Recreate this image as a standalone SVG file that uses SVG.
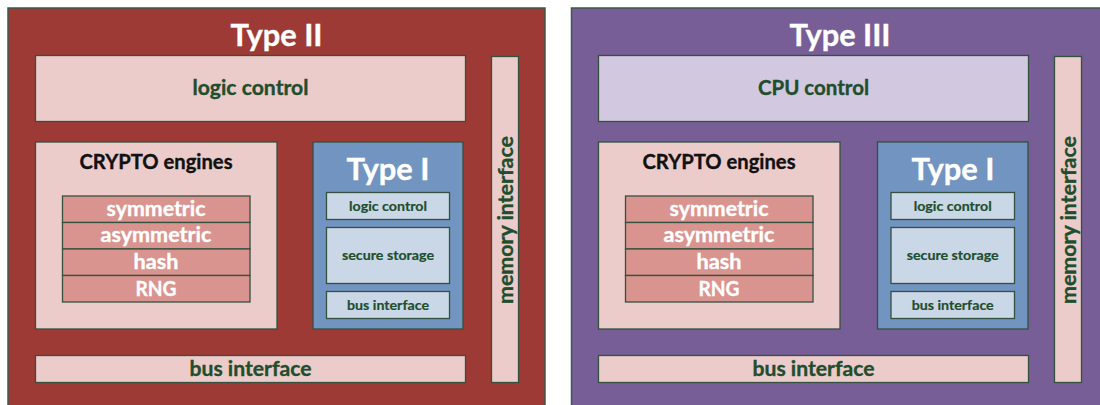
<svg xmlns="http://www.w3.org/2000/svg" width="1100" height="405" viewBox="0 0 1100 405">
<style>
text{font-family:Lato,"Liberation Sans",sans-serif;font-weight:bold;text-anchor:middle;stroke-width:0.35;lengthAdjust:spacingAndGlyphs}
.bd{stroke:#3e5848;stroke-width:1.5}
.bi{stroke:#34503f;stroke-width:1.3}
.red{fill:#9e3a35}
.pur{fill:#775e96}
.pink{fill:#ecccca}
.lav{fill:#d2c8df}
.row{fill:#d9948f}
.blue{fill:#7194c0}
.lb{fill:#c9d7e6}
.title{fill:#ffffff;stroke:#ffffff;font-size:31px}
.tg{fill:#1f4e2e;stroke:#1f4e2e}
.big{font-size:20.5px}
.sm{font-size:13.5px;stroke-width:0.2}
.blk{fill:#111111;stroke:#111111;font-size:20px}
.wt{fill:#ffffff;stroke:#ffffff;font-size:20.5px}
</style>
<rect width="1100" height="405" fill="#ffffff"/>
<g id="type2">
  <rect class="red bd" x="8" y="8" width="537" height="410"/>
  <text class="title" x="276.5" y="46" textLength="92" lengthAdjust="spacingAndGlyphs">Type II</text>
  <g id="t2-logic">
    <rect class="pink bi" x="35.5" y="55.5" width="430" height="66"/>
    <text class="tg big" x="250.5" y="94.5" textLength="116" lengthAdjust="spacingAndGlyphs">logic control</text>
  </g>
  <g id="t2-memory">
    <rect class="pink bi" x="491.5" y="56.5" width="27" height="326"/>
    <text class="tg big" transform="translate(513,220) rotate(-90)" textLength="168" lengthAdjust="spacingAndGlyphs">memory interface</text>
  </g>
  <g id="t2-crypto">
    <rect class="pink bi" x="35.5" y="142" width="241.5" height="187"/>
    <text class="blk" x="156" y="169.3" textLength="153" lengthAdjust="spacingAndGlyphs">CRYPTO engines</text>
    <rect class="row bi" x="62.5" y="196" width="187.5" height="26.5"/>
    <text class="wt" x="156" y="216" textLength="99" lengthAdjust="spacingAndGlyphs">symmetric</text>
    <rect class="row bi" x="62.5" y="222.5" width="187.5" height="26.5"/>
    <text class="wt" x="156" y="242" textLength="111" lengthAdjust="spacingAndGlyphs">asymmetric</text>
    <rect class="row bi" x="62.5" y="249" width="187.5" height="26.5"/>
    <text class="wt" x="156" y="268.5" textLength="45" lengthAdjust="spacingAndGlyphs">hash</text>
    <rect class="row bi" x="62.5" y="275.5" width="187.5" height="26.5"/>
    <text class="wt" x="156" y="295.5" textLength="41" lengthAdjust="spacingAndGlyphs">RNG</text>
  </g>
  <g id="t2-type1">
    <rect class="blue bi" x="313" y="142" width="150" height="187"/>
    <text class="title" x="388" y="180" textLength="83" lengthAdjust="spacingAndGlyphs">Type I</text>
    <rect class="lb bi" x="326.5" y="192.5" width="123" height="27"/>
    <text class="tg sm" x="388" y="211" textLength="78" lengthAdjust="spacingAndGlyphs">logic control</text>
    <rect class="lb bi" x="326.5" y="227.5" width="123" height="56"/>
    <text class="tg sm" x="388" y="259.5" textLength="92" lengthAdjust="spacingAndGlyphs">secure storage</text>
    <rect class="lb bi" x="326.5" y="291.5" width="123" height="27"/>
    <text class="tg sm" x="388" y="309.5" textLength="82" lengthAdjust="spacingAndGlyphs">bus interface</text>
  </g>
  <g id="t2-bus">
    <rect class="pink bi" x="35.5" y="355.5" width="430" height="27"/>
    <text class="tg big" x="250.5" y="375.7" textLength="122" lengthAdjust="spacingAndGlyphs">bus interface</text>
  </g>
</g>
<g id="type3">
  <rect class="pur bd" x="571.5" y="8" width="540" height="410"/>
  <text class="title" x="840" y="46" textLength="101" lengthAdjust="spacingAndGlyphs">Type III</text>
  <g id="t3-cpu">
    <rect class="lav bi" x="598.5" y="55.5" width="430" height="66"/>
    <text class="tg big" x="813.5" y="94.5" textLength="111" lengthAdjust="spacingAndGlyphs">CPU control</text>
  </g>
  <g id="t3-memory">
    <rect class="pink bi" x="1054.5" y="56.5" width="27" height="326"/>
    <text class="tg big" transform="translate(1076,220) rotate(-90)" textLength="168" lengthAdjust="spacingAndGlyphs">memory interface</text>
  </g>
  <g id="t3-crypto">
    <rect class="pink bi" x="598.5" y="142" width="241.5" height="187"/>
    <text class="blk" x="719" y="169.3" textLength="153" lengthAdjust="spacingAndGlyphs">CRYPTO engines</text>
    <rect class="row bi" x="625.5" y="196" width="187.5" height="26.5"/>
    <text class="wt" x="719" y="216" textLength="99" lengthAdjust="spacingAndGlyphs">symmetric</text>
    <rect class="row bi" x="625.5" y="222.5" width="187.5" height="26.5"/>
    <text class="wt" x="719" y="242" textLength="111" lengthAdjust="spacingAndGlyphs">asymmetric</text>
    <rect class="row bi" x="625.5" y="249" width="187.5" height="26.5"/>
    <text class="wt" x="719" y="268.5" textLength="45" lengthAdjust="spacingAndGlyphs">hash</text>
    <rect class="row bi" x="625.5" y="275.5" width="187.5" height="26.5"/>
    <text class="wt" x="719" y="295.5" textLength="41" lengthAdjust="spacingAndGlyphs">RNG</text>
  </g>
  <g id="t3-type1">
    <rect class="blue bi" x="877.5" y="142" width="150.5" height="187"/>
    <text class="title" x="953" y="180" textLength="83" lengthAdjust="spacingAndGlyphs">Type I</text>
    <rect class="lb bi" x="891" y="192.5" width="123.5" height="27"/>
    <text class="tg sm" x="952.7" y="211" textLength="78" lengthAdjust="spacingAndGlyphs">logic control</text>
    <rect class="lb bi" x="891" y="227.5" width="123.5" height="56"/>
    <text class="tg sm" x="952.7" y="259.5" textLength="92" lengthAdjust="spacingAndGlyphs">secure storage</text>
    <rect class="lb bi" x="891" y="291.5" width="123.5" height="27"/>
    <text class="tg sm" x="952.7" y="309.5" textLength="82" lengthAdjust="spacingAndGlyphs">bus interface</text>
  </g>
  <g id="t3-bus">
    <rect class="pink bi" x="598.5" y="355.5" width="430" height="27"/>
    <text class="tg big" x="813.5" y="375.7" textLength="122" lengthAdjust="spacingAndGlyphs">bus interface</text>
  </g>
</g>
<g id="connectors"/>
</svg>
